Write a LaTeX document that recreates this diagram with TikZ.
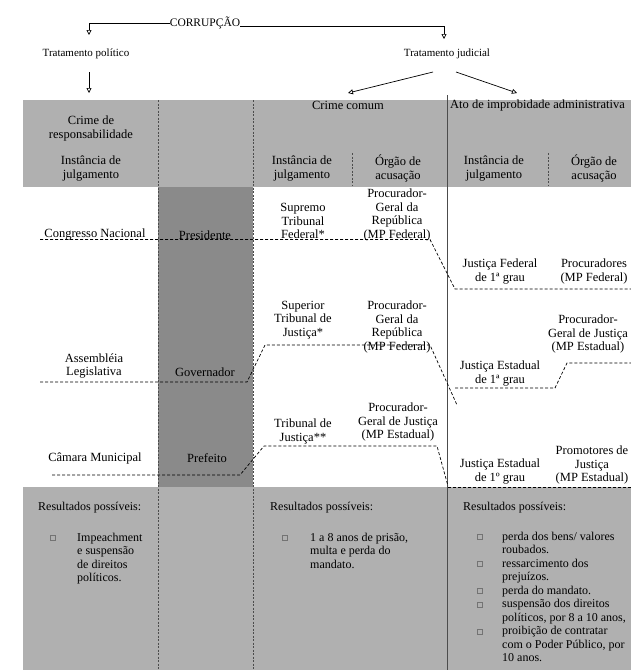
\documentclass[tikz,border=0pt]{standalone}
\usepackage{fontspec}
\setmainfont{Liberation Serif}
\usetikzlibrary{arrows.meta}
\definecolor{lightgr}{RGB}{176,176,176}
\definecolor{darkgr}{RGB}{138,138,138}
\begin{document}
\begin{tikzpicture}[x=1pt,y=-1pt,
  txt/.style={font=\fontsize{12.5}{13.8}\selectfont, align=center, inner sep=0pt},
  htxt/.style={font=\fontsize{12.5}{14}\selectfont, inner sep=0pt},
  toptxt/.style={font=\fontsize{11}{13}\selectfont, inner sep=0pt},
  btxt/.style={font=\fontsize{12}{13.5}\selectfont, inner sep=0pt},
  ltxt/.style={font=\fontsize{12}{13.5}\selectfont, align=left, inner sep=0pt, anchor=north west},
  dline/.style={dash pattern=on 3pt off 2pt, line width=0.7pt},
  arr/.style={-{Triangle[open,length=5pt,width=5pt]}, line width=0.7pt},
  bul/.style={draw=black!55, line width=0.4pt, minimum size=5pt, inner sep=0pt},
  vline/.style={black!70, line width=0.6pt},
]
\clip (0,0) rectangle (631,670);
\fill[white] (0,0) rectangle (631,670);
% gray areas
\fill[lightgr] (23,100) rectangle (631,187);
\fill[darkgr] (158,187) rectangle (253,487);
\fill[lightgr] (23,487) rectangle (631,670);
% column dividers
\draw[vline, dash pattern=on 2pt off 1.5pt] (158,100) -- (158,670);
\draw[vline, dash pattern=on 2pt off 1.5pt] (253,100) -- (253,670);
\draw[vline] (447,95) -- (447,670);
\draw[vline, dash pattern=on 2pt off 1.5pt] (352,153) -- (352,186);
\draw[vline, dash pattern=on 2pt off 1.5pt] (548,153) -- (548,186);

% top
\node[toptxt, font=\fontsize{11.5}{13}\selectfont] (corr) at (205,23) {CORRUPÇÃO};
\node[toptxt] (tpol) at (86,54) {Tratamento político};
\node[toptxt] (tjud) at (447,54) {Tratamento judicial};
\coordinate (poltip) at (89,35);
\coordinate (judtip) at (444,39);
\coordinate (polstart) at (89,72);
\coordinate (polend) at (89,93);
\coordinate (jstartl) at (433,72);
\coordinate (jstartr) at (456,72);
\coordinate (ccend) at (348,93);
\coordinate (aiend) at (517,93);
\draw[arr] (corr.west) -| (poltip);
\draw[arr] (corr.base east) -| (judtip);
\draw[arr] (polstart) -- (polend);
\draw[arr] (jstartl) -- (ccend);
\draw[arr] (jstartr) -- (aiend);

% header
\node[txt] (hcr) at (91,128.5) {Crime de\\responsabilidade};
\node[htxt] (hcc) at (348,105) {Crime comum};
\node[htxt, anchor=west] (hai) at (450,105) {Ato de improbidade administrativa};
\node[txt] (hij1) at (91,168.5) {Instância de\\julgamento};
\node[txt] (hij2) at (302,168.5) {Instância de\\julgamento};
\node[txt] (hoa2) at (398,168.5) {Órgão de\\acusação};
\node[txt] (hij3) at (494,168.5) {Instância de\\julgamento};
\node[txt] (hoa3) at (594,168.5) {Órgão de\\acusação};

% row 1
\node[txt] (cn) at (95,235) {Congresso Nacional};
\node[txt] (pres) at (205,235) {Presidente};
\node[txt] (stf) at (303,221) {Supremo\\Tribunal\\Federal*};
\node[txt] (pgr1) at (397,215) {Procurador-\\Geral da\\República\\(MP Federal)};
\node[txt] (jf) at (500,271.5) {Justiça Federal\\de 1ª grau};
\node[txt] (pmf) at (594,271.5) {Procuradores\\(MP Federal)};
\coordinate (r1a) at (40,239.5);
\coordinate (r1b) at (430,239.5);
\coordinate (r1c) at (455,289);
\coordinate (r1d) at (631,289);
\draw[dline] (r1a) -- (r1b) -- (r1c) -- (r1d);

% row 2
\node[txt] (al) at (94,366) {Assembléia\\Legislativa};
\node[txt] (gov) at (205,372) {Governador};
\node[txt] (stj) at (303,320) {Superior\\Tribunal de\\Justiça*};
\node[txt] (pgr2) at (397,327) {Procurador-\\Geral da\\República\\(MP Federal)};
\node[txt] (je1) at (500,373.5) {Justiça Estadual\\de 1ª grau};
\node[txt] (pgj1) at (588,334) {Procurador-\\Geral de Justiça\\(MP Estadual)};
\coordinate (r2a) at (40,382);
\coordinate (r2b) at (247,382);
\coordinate (r2c) at (265,345);
\coordinate (r2d) at (430,345);
\coordinate (r2e) at (457,405);
\draw[dline] (r2a) -- (r2b) -- (r2c) -- (r2d) -- (r2e);
\coordinate (r2f) at (455,388);
\coordinate (r2g) at (555,388);
\coordinate (r2h) at (567,363);
\coordinate (r2i) at (631,363);
\draw[dline] (r2f) -- (r2g) -- (r2h) -- (r2i);

% row 3
\node[txt] (cm) at (95,458) {Câmara Municipal};
\node[txt] (pref) at (207,458) {Prefeito};
\node[txt] (tj) at (303,431.5) {Tribunal de\\Justiça**};
\node[txt] (pgj2) at (398,422) {Procurador-\\Geral de Justiça\\(MP Estadual)};
\node[txt] (je2) at (500,471.5) {Justiça Estadual\\de 1º grau};
\node[txt] (pje) at (592,465) {Promotores de\\Justiça\\(MP Estadual)};
\coordinate (r3a) at (52,475);
\coordinate (r3b) at (240,475);
\coordinate (r3c) at (264,446);
\coordinate (r3d) at (437,446);
\coordinate (r3e) at (448,486);
\draw[dline] (r3a) -- (r3b) -- (r3c) -- (r3d) -- (r3e);
\coordinate (r3f) at (448,487);
\coordinate (r3g) at (631,487);
\draw[dline] (r3f) -- (r3g);

% bottom
\node[btxt, anchor=west] (res1) at (38,508) {Resultados possíveis:};
\node[btxt, anchor=west] (res2) at (270,508) {Resultados possíveis:};
\node[btxt, anchor=west] (res3) at (463,508) {Resultados possíveis:};
\node[bul] (b1) at (53,538) {};
\node[ltxt] (t1) at (77,532.5) {Impeachment\\e suspensão\\de direitos\\políticos.};
\node[bul] (b2) at (285,538) {};
\node[ltxt] (t2) at (310,532.5) {1 a 8 anos de prisão,\\multa e perda do\\mandato.};
\node[bul] (b3) at (480,537) {};
\node[bul] (b4) at (480,564) {};
\node[bul] (b5) at (480,591) {};
\node[bul] (b6) at (480,604.5) {};
\node[bul] (b7) at (480,631.5) {};
\node[ltxt] (t3) at (502,531.5) {perda dos bens/ valores\\roubados.\\ressarcimento dos\\prejuízos.\\perda do mandato.\\suspensão dos direitos\\políticos, por 8 a 10 anos,\\proibição de contratar\\com o Poder Público, por\\10 anos.};
\end{tikzpicture}
\end{document}
